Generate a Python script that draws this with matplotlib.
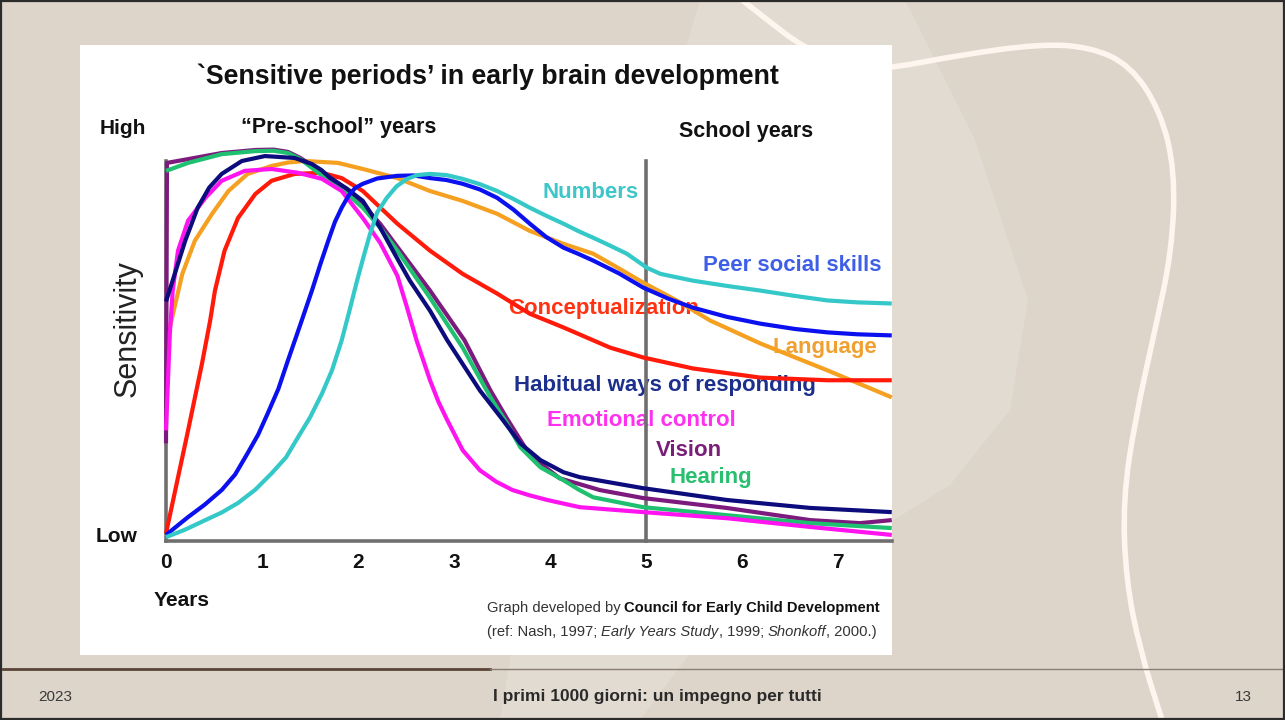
import matplotlib
matplotlib.use("Agg")
import matplotlib.pyplot as plt
from matplotlib.patches import Rectangle, Polygon, PathPatch
from matplotlib.path import Path

plt.rcParams['font.family'] = ['Liberation Sans', 'DejaVu Sans']

# ---------------- data (years, sensitivity 0..100) ----------------
hearing_x = [0, 0.23, 0.58, 0.93, 1.12, 1.27, 1.40, 1.53, 1.71, 1.88, 2.05, 2.23, 2.41, 2.75, 3.09, 3.38, 3.55, 3.69, 3.90, 4.14, 4.30, 4.45, 4.97, 5.84, 6.71, 7.56]
hearing_y = [97.4, 99.5, 101.8, 102.6, 102.7, 102.1, 100.5, 98.0, 94.5, 91.5, 87.7, 82.5, 76.4, 64.0, 50.9, 37.8, 31.0, 24.7, 19.4, 16.0, 13.5, 11.5, 8.9, 6.8, 4.7, 3.4]

vision_x = [0, 0.01, 0.23, 0.58, 0.93, 1.12, 1.27, 1.40, 1.53, 1.71, 1.88, 2.05, 2.23, 2.41, 2.75, 3.11, 3.38, 3.55, 3.79, 4.10, 4.52, 4.97, 5.84, 6.71, 7.23, 7.56]
vision_y = [25.7, 99.5, 100.5, 102.1, 102.9, 103.0, 102.4, 100.8, 98.6, 95.8, 92.5, 88.5, 83.5, 77.4, 65.9, 52.8, 39.6, 32.3, 22.6, 16.5, 13.4, 11.3, 8.7, 5.5, 4.7, 5.5]

habitual_x = [0, 0.125, 0.20, 0.33, 0.45, 0.58, 0.79, 1.03, 1.34, 1.52, 1.62, 1.71, 1.88, 2.05, 2.23, 2.41, 2.54, 2.75, 2.93, 3.27, 3.51, 3.69, 3.90, 4.14, 4.31, 4.97, 5.84, 6.71, 7.56]
habitual_y = [63.0, 73.0, 79.0, 87.7, 93.0, 96.6, 100.0, 101.3, 100.8, 99.2, 97.6, 95.5, 92.8, 89.5, 82.5, 74.3, 68.5, 60.6, 52.8, 39.6, 31.8, 25.7, 21.3, 18.1, 16.8, 13.9, 10.8, 8.7, 7.6]

emotional_x = [0, 0.04, 0.07, 0.125, 0.23, 0.41, 0.58, 0.82, 1.10, 1.375, 1.625, 1.83, 2.05, 2.23, 2.41, 2.51, 2.61, 2.75, 2.84, 2.93, 3.09, 3.27, 3.44, 3.61, 3.79, 3.97, 4.31, 4.97, 5.84, 6.71, 7.56]
emotional_y = [29.1, 54.6, 65.9, 76.4, 84.3, 90.3, 94.8, 97.4, 97.9, 96.9, 95.3, 92.1, 85.0, 78.5, 69.8, 61.5, 52.8, 42.3, 36.5, 31.8, 23.9, 18.6, 15.6, 13.4, 12.0, 10.8, 8.9, 7.6, 6.0, 3.7, 1.6]

language_x = [0, 0.04, 0.17, 0.30, 0.48, 0.65, 0.85, 1.10, 1.27, 1.45, 1.79, 2.05, 2.41, 2.75, 3.09, 3.45, 3.79, 4.14, 4.45, 4.70, 4.97, 5.32, 5.67, 6.19, 6.89, 7.56]
language_y = [50.9, 56.2, 70.3, 79.0, 86.1, 92.1, 96.6, 98.7, 99.6, 100.0, 99.5, 97.9, 95.5, 92.1, 89.5, 86.1, 81.6, 78.2, 75.6, 72.0, 68.0, 63.3, 58.0, 52.0, 44.9, 37.8]

concept_x = [0, 0.23, 0.375, 0.46, 0.51, 0.61, 0.75, 0.93, 1.10, 1.34, 1.625, 1.83, 2.05, 2.23, 2.41, 2.75, 3.09, 3.45, 3.79, 4.14, 4.625, 4.97, 5.49, 6.19, 6.89, 7.56]
concept_y = [2.0, 29.1, 46.7, 58.0, 65.9, 76.4, 85.0, 91.3, 94.8, 96.6, 96.9, 95.5, 92.1, 87.8, 83.5, 76.4, 70.3, 65.1, 59.8, 56.2, 50.9, 48.3, 45.4, 43.0, 42.3, 42.3]

peer_x = [0, 0.23, 0.40, 0.58, 0.72, 0.85, 0.96, 1.06, 1.17, 1.27, 1.40, 1.52, 1.61, 1.69, 1.76, 1.83, 1.90, 1.97, 2.05, 2.20, 2.41, 2.58, 2.75, 2.92, 3.09, 3.27, 3.45, 3.62, 3.79, 3.96, 4.14, 4.30, 4.45, 4.72, 4.97, 5.23, 5.49, 5.84, 6.19, 6.55, 6.89, 7.20, 7.56]
peer_y = [1.6, 6.3, 9.5, 13.4, 17.5, 23.1, 28.0, 33.6, 40.0, 47.5, 57.0, 65.9, 73.0, 79.0, 84.0, 87.7, 90.8, 92.9, 94.0, 95.4, 96.1, 96.2, 95.5, 95.0, 94.0, 92.5, 90.3, 87.2, 83.5, 80.0, 77.2, 75.5, 73.8, 70.4, 66.7, 63.8, 61.4, 59.0, 57.2, 55.8, 54.9, 54.4, 54.1]

numbers_x = [0, 0.20, 0.41, 0.58, 0.75, 0.93, 1.10, 1.25, 1.375, 1.50, 1.625, 1.73, 1.83, 1.91, 1.99, 2.06, 2.125, 2.20, 2.30, 2.40, 2.51, 2.62, 2.75, 2.92, 3.09, 3.27, 3.45, 3.62, 3.79, 3.96, 4.14, 4.30, 4.45, 4.62, 4.80, 5.01, 5.15, 5.30, 5.49, 5.85, 6.19, 6.55, 6.89, 7.20, 7.56]
numbers_y = [1.0, 3.0, 5.5, 7.5, 10.0, 13.5, 17.8, 22.0, 27.3, 32.5, 38.8, 45.0, 52.8, 60.5, 68.5, 75.0, 80.8, 86.5, 90.3, 93.3, 95.3, 96.3, 96.6, 96.3, 95.3, 93.9, 92.1, 90.0, 87.7, 85.6, 83.5, 81.5, 79.8, 77.8, 75.6, 71.9, 70.3, 69.5, 68.5, 67.1, 65.9, 64.5, 63.3, 62.8, 62.5]

year_ticks = [0, 1, 2, 3, 4, 5, 6, 7]
year_labels = ['0', '1', '2', '3', '4', '5', '6', '7']
school_start = 5

series = [
    # name, x, y, line colour, label colour, label pos (x, y)
    ("Language", language_x, language_y, "#f5a020", "#f0a030", (6.86, 50.8)),
    ("Conceptualization", concept_x, concept_y, "#ff1a0a", "#ff3312", (4.56, 61.3)),
    ("Vision", vision_x, vision_y, "#7d1a7d", "#7a1e78", (5.45, 23.7)),
    ("Hearing", hearing_x, hearing_y, "#1fc070", "#28bf6e", (5.67, 16.8)),
    ("Emotional control", emotional_x, emotional_y, "#ff14f0", "#ff30f0", (4.95, 31.8)),
    ("Habitual ways of responding", habitual_x, habitual_y, "#0c0c7c", "#1c2f8c", (5.20, 40.8)),
    ("Peer social skills", peer_x, peer_y, "#0a10ee", "#3f60e6", (6.52, 72.4)),
    ("Numbers", numbers_x, numbers_y, "#35c8c8", "#3ec6c8", (4.42, 91.8)),
]

W, H = 1285, 720
fig = plt.figure(figsize=(W / 100, H / 100), dpi=100)
fig.patch.set_facecolor('#ddd5ca')

# ---------------- slide background ----------------
bg = fig.add_axes([0, 0, 1, 1])
bg.set_xlim(0, W)
bg.set_ylim(H, 0)
bg.axis('off')
bg.add_patch(Polygon([(700, 0), (905, 0), (975, 140), (1028, 300), (1010, 410), (950, 485),
                      (870, 535), (700, 640), (640, 720), (500, 720), (520, 600)],
                     closed=True, facecolor='#e2dbd1', edgecolor='none', zorder=0))

# decorative white curve
pts = [(742, 0), (770, 22), (800, 45), (850, 70), (892, 68), (960, 55), (1040, 44), (1090, 47),
       (1130, 65), (1160, 110), (1175, 170), (1172, 250), (1155, 330), (1135, 420), (1123, 500),
       (1126, 580), (1140, 650), (1162, 720)]
verts = [pts[0]]
codes = [Path.MOVETO]
for i in range(1, len(pts) - 1):
    mid = ((pts[i][0] + pts[i + 1][0]) / 2, (pts[i][1] + pts[i + 1][1]) / 2)
    verts += [pts[i], mid]
    codes += [Path.CURVE3, Path.CURVE3]
verts.append(pts[-1])
codes.append(Path.LINETO)
bg.add_patch(PathPatch(Path(verts, codes), facecolor='none', edgecolor='#fdf5ee', lw=4, zorder=1))

# white panel
bg.add_patch(Rectangle((80, 45), 812, 610, facecolor='white', edgecolor='none', zorder=2))

# footer line and frame
bg.plot([3, 490], [669, 669], color='#5a4536', lw=2, zorder=3)
bg.plot([490, 1282], [669, 669], color='#8a7e74', lw=1, zorder=3)
bg.add_patch(Rectangle((1, 1), W - 2, H - 2, facecolor='none', edgecolor='#2b2b2b', lw=1.6, zorder=4))


def ftext(px, py, s, **kw):
    return fig.text(px / W, 1 - py / H, s, **kw)


ftext(55, 697, "2023", ha='center', va='center', fontsize=11, color='#3a3a3a')
ftext(657, 697, "I primi 1000 giorni: un impegno per tutti", ha='center', va='center',
      fontsize=12.5, fontweight='bold', color='#2a2a2a')
ftext(1243, 697, "13", ha='center', va='center', fontsize=11, color='#3a3a3a')

# ---------------- chart ----------------
ax = fig.add_axes([166 / W, 1 - 541 / H, (892 - 166) / W, (541 - 161) / H])
ax.set_facecolor('none')
ax.set_xlim(0, (892 - 166) / 96)
ax.set_ylim(0, 100)
for s in ['top', 'right']:
    ax.spines[s].set_visible(False)
for s in ['left', 'bottom']:
    ax.spines[s].set_color('#6f6f6f')
    ax.spines[s].set_linewidth(2.6)
ax.set_yticks([])
ax.set_xticks(year_ticks)
ax.set_xticklabels(year_labels, fontsize=15, fontweight='bold', color='#111111')
ax.tick_params(axis='x', length=0, pad=9)

ax.plot([school_start, school_start], [0, 100], color='#6f6f6f', lw=2.6, zorder=5, clip_on=False)

for i, (name, xs, ys, lc, tc, (lx, ly)) in enumerate(series):
    ax.plot(xs, ys, color=lc, lw=3.0, solid_capstyle='butt', solid_joinstyle='round',
            zorder=6 + i, clip_on=False)
    ax.text(lx, ly, name, color=tc, fontsize=16, fontweight='bold', ha='center', va='center',
            zorder=2)

# chart texts
ftext(488, 77, "`Sensitive periods’ in early brain development", ha='center', va='center',
      fontsize=19.3, fontweight='bold', color='#111111')
ftext(100, 128, "High", ha='left', va='center', fontsize=15, fontweight='bold', color='#111111')
ftext(339, 128, "“Pre-school” years", ha='center', va='center', fontsize=15.5, fontweight='bold', color='#111111')
ftext(746, 131, "School years", ha='center', va='center', fontsize=15.5, fontweight='bold', color='#111111')
ftext(96, 537, "Low", ha='left', va='center', fontsize=15, fontweight='bold', color='#111111')
ftext(154, 600, "Years", ha='left', va='center', fontsize=15, fontweight='bold', color='#111111')
ftext(128, 329, "Sensitivity", ha='center', va='center', rotation=90, fontsize=22, color='#222222')

renderer = fig.canvas.get_renderer()


def rich_right(px_right, py, pieces, size):
    x = px_right
    for s, kw in reversed(pieces):
        style = {'color': '#333333'}
        style.update(kw)
        t = fig.text(x / W, 1 - py / H, s, ha='right', va='center', fontsize=size, **style)
        bb = t.get_window_extent(renderer)
        x = bb.x0


rich_right(880, 608, [("Graph developed by ", {}),
                      ("Council for Early Child Development", {'fontweight': 'bold', 'color': '#111111'})], 10.6)
rich_right(877, 632, [("(ref: Nash, 1997; ", {}), ("Early Years Study", {'fontstyle': 'italic'}),
                      (", 1999; ", {}), ("Shonkoff", {'fontstyle': 'italic'}), (", 2000.)", {})], 10.6)

fig.savefig('out.png', dpi=100, facecolor=fig.get_facecolor())
